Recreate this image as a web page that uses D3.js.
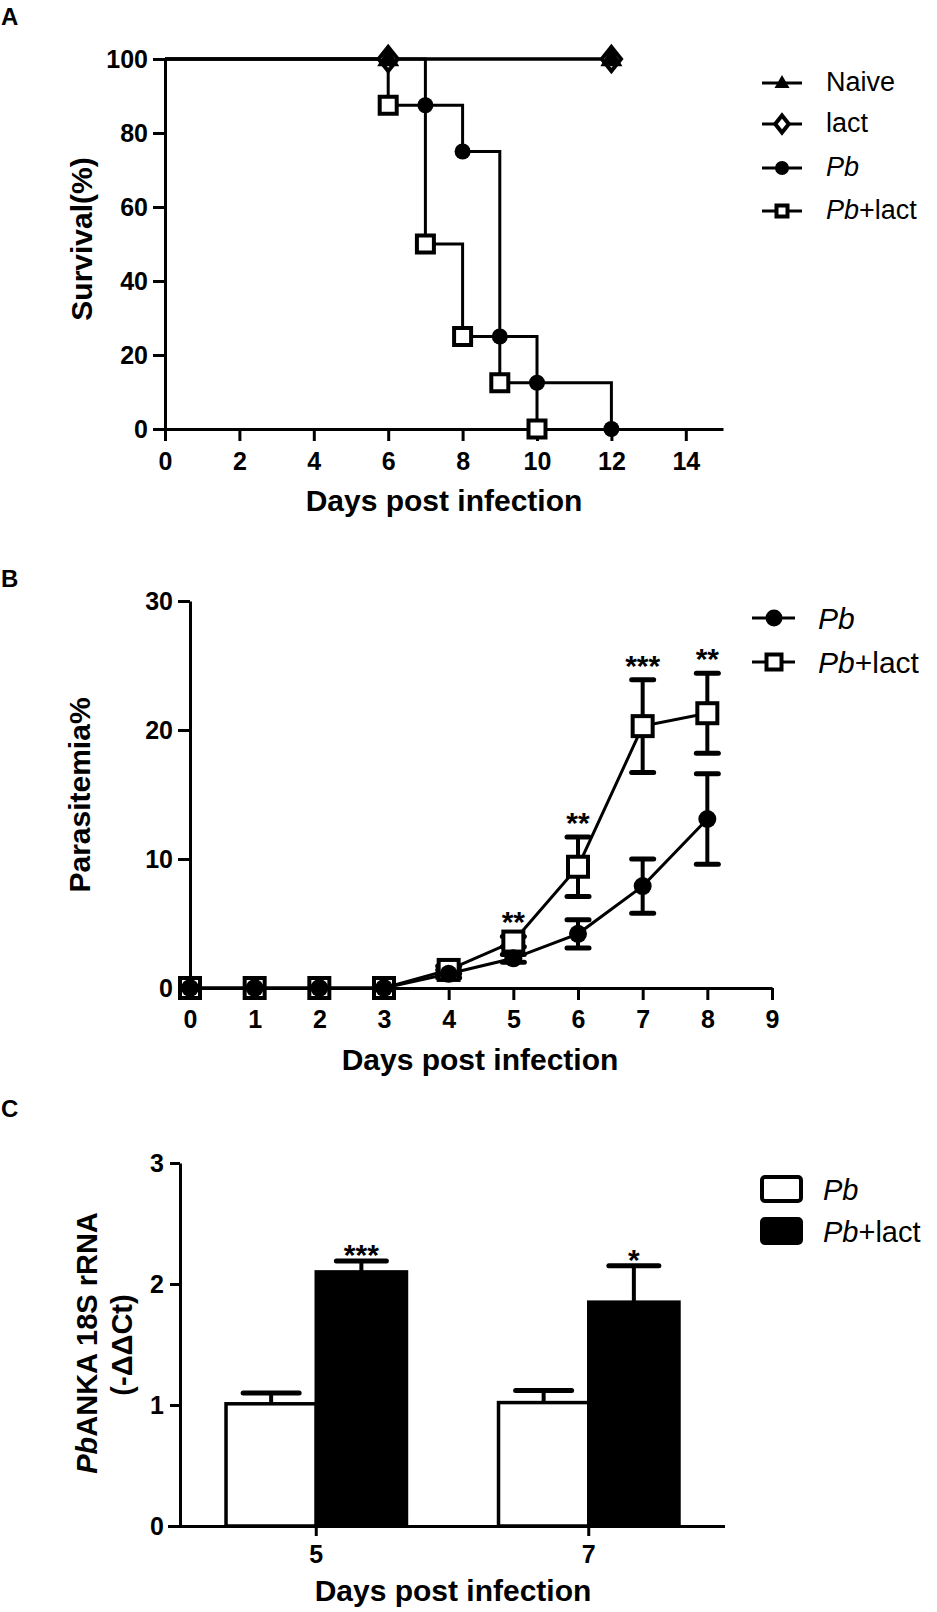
<!DOCTYPE html>
<html>
<head>
<meta charset="utf-8">
<script src="https://cdn.jsdelivr.net/npm/d3@7"></script>
<style>
  body { margin: 0; background: #fff; }
  svg text { font-family: "Liberation Sans", Arial, sans-serif; fill: #000; }
  .tick text { font-weight: bold; font-size: 25px; }
  .axis path, .axis line { stroke: #000; stroke-width: 3; }
</style>
</head>
<body>
<svg id="fig" width="937" height="1612"></svg>
<script>
// ---- Panel A: survival ----
const survivalXTicks = [0, 2, 4, 6, 8, 10, 12, 14];
const survivalYTicks = [0, 20, 40, 60, 80, 100];
const naiveDays = [0, 6, 12];
const naiveSurvival = [100, 100, 100];
const lactDays = [0, 6, 12];
const lactSurvival = [100, 100, 100];
const pbDays = [0, 7, 8, 9, 10, 12];
const pbSurvival = [100, 87.5, 75, 25, 12.5, 0];
const pbLactDays = [0, 6, 7, 8, 9, 10];
const pbLactSurvival = [100, 87.5, 50, 25, 12.5, 0];

// ---- Panel B: parasitemia ----
const paraDays = [0, 1, 2, 3, 4, 5, 6, 7, 8];
const paraXTicks = [0, 1, 2, 3, 4, 5, 6, 7, 8, 9];
const paraYTicks = [0, 10, 20, 30];
const pbPara = [0, 0, 0, 0, 1.1, 2.3, 4.2, 7.9, 13.1];
const pbParaErr = [0, 0, 0, 0, 0.3, 0.3, 1.1, 2.1, 3.5];
const pbLactPara = [0, 0, 0, 0, 1.4, 3.6, 9.4, 20.3, 21.3];
const pbLactParaErr = [0, 0, 0, 0, 0.3, 0.4, 2.3, 3.6, 3.1];
const paraStars = ["", "", "", "", "", "**", "**", "***", "**"];

// ---- Panel C: 18S rRNA ----
const rnaDays = ["5", "7"];
const rnaYTicks = [0, 1, 2, 3];
const pbRna = [1.01, 1.02];
const pbRnaErr = [0.09, 0.10];
const pbLactRna = [2.10, 1.85];
const pbLactRnaErr = [0.09, 0.30];
const rnaStars = ["***", "*"];

const svg = d3.select("#fig");
const black = "#000";

function panelLetter(txt, y) {
  svg.append("text").attr("x", 1).attr("y", y)
    .attr("font-weight", "bold").attr("font-size", 24).text(txt);
}

function styleAxis(g) {
  g.attr("class", "axis");
}

// size = nominal width of the marker in px
function marker(g, type, x, y, size) {
  if (type === "circle") {
    g.append("circle").attr("cx", x).attr("cy", y).attr("r", size / 2).attr("fill", black);
  } else if (type === "square") {
    const h = size / 2 - 2;
    g.append("rect").attr("x", x - h).attr("y", y - h).attr("width", 2 * h).attr("height", 2 * h)
      .attr("fill", "#fff").attr("stroke", black).attr("stroke-width", 4);
  } else if (type === "triangle") {
    const h = size * 0.87;
    g.append("path").attr("d", `M${x},${y - h * 0.62}L${x + size / 2},${y + h * 0.38}L${x - size / 2},${y + h * 0.38}Z`)
      .attr("fill", black);
  } else if (type === "diamond") {
    const r = size / 2;
    g.append("path").attr("d", `M${x},${y - r}L${x + r * 0.8},${y}L${x},${y + r}L${x - r * 0.8},${y}Z`)
      .attr("fill", "#fff").attr("stroke", black).attr("stroke-width", 4);
  }
}

// ================= Panel A =================
panelLetter("A", 25);
const xA = d3.scaleLinear().domain([0, 15]).range([165, 723]);
const yA = d3.scaleLinear().domain([0, 100]).range([429, 59]);

svg.append("g").attr("transform", `translate(0,${yA(0)})`)
  .call(d3.axisBottom(xA).tickValues(survivalXTicks).tickSize(12).tickSizeOuter(0).tickPadding(11))
  .call(styleAxis);
svg.append("g").attr("transform", `translate(${xA(0)},0)`)
  .call(d3.axisLeft(yA).tickValues(survivalYTicks).tickSize(12).tickSizeOuter(0).tickPadding(5))
  .call(styleAxis);

const stepLine = d3.line().curve(d3.curveStepAfter).x(d => xA(d[0])).y(d => yA(d[1]));
const survSeries = [
  { days: lactDays, vals: lactSurvival, mark: "diamond" },
  { days: naiveDays, vals: naiveSurvival, mark: "triangle" },
  { days: pbLactDays, vals: pbLactSurvival, mark: "square" },
  { days: pbDays, vals: pbSurvival, mark: "circle" }
];
const markSizeA = { diamond: 24, triangle: 22, square: 21, circle: 16 };
const gA = svg.append("g");
survSeries.forEach(s => {
  const pts = s.days.map((d, i) => [d, s.vals[i]]);
  gA.append("path").attr("d", stepLine(pts)).attr("fill", "none")
    .attr("stroke", black).attr("stroke-width", 3);
});
survSeries.forEach(s => {
  s.days.forEach((d, i) => { if (i > 0) marker(gA, s.mark, xA(d), yA(s.vals[i]), markSizeA[s.mark]); });
});

svg.append("text").attr("x", 444).attr("y", 511).attr("text-anchor", "middle")
  .attr("font-weight", "bold").attr("font-size", 30).text("Days post infection");
svg.append("text").attr("transform", `translate(92,239) rotate(-90)`).attr("text-anchor", "middle")
  .attr("font-weight", "bold").attr("font-size", 30).text("Survival(%)");

const legA = [
  { label: "Naive", mark: "triangle" },
  { label: "lact", mark: "diamond" },
  { label: "Pb", mark: "circle", italic: true },
  { label: "Pb+lact", mark: "square", italic: true }
];
const legSizeA = { triangle: 15, diamond: 17, circle: 14, square: 15 };
legA.forEach((l, i) => {
  const y = [83, 124, 168, 211][i];
  svg.append("line").attr("x1", 762).attr("x2", 802).attr("y1", y).attr("y2", y)
    .attr("stroke", black).attr("stroke-width", 3);
  marker(svg, l.mark, 782, y, legSizeA[l.mark]);
  const t = svg.append("text").attr("x", 826).attr("y", y + 8).attr("font-size", 27);
  if (l.italic) {
    t.append("tspan").attr("font-style", "italic").text("Pb");
    t.append("tspan").text(l.label.slice(2));
  } else t.text(l.label);
});

// ================= Panel B =================
panelLetter("B", 587);
const xB = d3.scaleLinear().domain([0, 9]).range([190, 772]);
const yB = d3.scaleLinear().domain([0, 30]).range([988, 601]);

svg.append("g").attr("transform", `translate(0,${yB(0)})`)
  .call(d3.axisBottom(xB).tickValues(paraXTicks).tickSize(12).tickSizeOuter(0).tickPadding(10))
  .call(styleAxis);
svg.append("g").attr("transform", `translate(${xB(0)},0)`)
  .call(d3.axisLeft(yB).tickValues(paraYTicks).tickSize(12).tickSizeOuter(0).tickPadding(5))
  .call(styleAxis);

const lineB = d3.line().x((d, i) => xB(paraDays[i])).y(d => yB(d));
const gB = svg.append("g");
[[pbLactPara, pbLactParaErr], [pbPara, pbParaErr]].forEach(([vals, errs]) => {
  gB.append("path").attr("d", lineB(vals)).attr("fill", "none")
    .attr("stroke", black).attr("stroke-width", 3);
  vals.forEach((v, i) => {
    if (errs[i] <= 0) return;
    const x = xB(paraDays[i]);
    const y0 = yB(v - errs[i]), y1 = yB(v + errs[i]);
    gB.append("line").attr("x1", x).attr("x2", x).attr("y1", y0).attr("y2", y1)
      .attr("stroke", black).attr("stroke-width", 4);
    [y0, y1].forEach(yy => gB.append("line").attr("x1", x - 11).attr("x2", x + 11)
      .attr("y1", yy).attr("y2", yy).attr("stroke", black).attr("stroke-width", 5)
      .attr("stroke-linecap", "round"));
  });
});
pbLactPara.forEach((v, i) => marker(gB, "square", xB(paraDays[i]), yB(v), 24));
pbPara.forEach((v, i) => marker(gB, "circle", xB(paraDays[i]), yB(v), 18));

paraStars.forEach((s, i) => {
  if (!s) return;
  const top = Math.max(pbLactPara[i] + pbLactParaErr[i], pbPara[i] + pbParaErr[i]);
  svg.append("text").attr("x", xB(paraDays[i])).attr("y", yB(top) - 4)
    .attr("text-anchor", "middle").attr("font-weight", "bold").attr("font-size", 30).text(s);
});

svg.append("text").attr("x", 480).attr("y", 1070).attr("text-anchor", "middle")
  .attr("font-weight", "bold").attr("font-size", 30).text("Days post infection");
svg.append("text").attr("transform", `translate(90,795) rotate(-90)`).attr("text-anchor", "middle")
  .attr("font-weight", "bold").attr("font-size", 30).text("Parasitemia%");

[{ mark: "circle", suffix: "", size: 17 }, { mark: "square", suffix: "+lact", size: 19 }].forEach((l, i) => {
  const y = 618 + i * 44;
  svg.append("line").attr("x1", 752).attr("x2", 795).attr("y1", y).attr("y2", y)
    .attr("stroke", black).attr("stroke-width", 3);
  marker(svg, l.mark, 774, y, l.size);
  const t = svg.append("text").attr("x", 818).attr("y", y + 11).attr("font-size", 30);
  t.append("tspan").attr("font-style", "italic").text("Pb");
  t.append("tspan").text(l.suffix);
});

// ================= Panel C =================
panelLetter("C", 1117);
const xC = d3.scaleBand().domain(rnaDays).range([180, 725]);
const xCInner = d3.scaleBand().domain(["Pb", "Pb+lact"]).range([0, xC.bandwidth()])
  .paddingInner(0).paddingOuter(0.51);
const yC = d3.scaleLinear().domain([0, 3]).range([1526, 1163]);

const gC = svg.append("g");
rnaDays.forEach((day, i) => {
  [["Pb", pbRna[i], pbRnaErr[i], "#fff", 28], ["Pb+lact", pbLactRna[i], pbLactRnaErr[i], black, 25]]
    .forEach(([key, v, e, fill, capHalf]) => {
      const x = xC(day) + xCInner(key);
      const cx = x + xCInner.bandwidth() / 2;
      gC.append("line").attr("x1", cx).attr("x2", cx).attr("y1", yC(v)).attr("y2", yC(v + e))
        .attr("stroke", black).attr("stroke-width", 4);
      gC.append("line").attr("x1", cx - capHalf).attr("x2", cx + capHalf).attr("y1", yC(v + e)).attr("y2", yC(v + e))
        .attr("stroke", black).attr("stroke-width", 5).attr("stroke-linecap", "round");
      gC.append("rect").attr("x", x).attr("y", yC(v)).attr("width", xCInner.bandwidth())
        .attr("height", yC(0) - yC(v)).attr("fill", fill).attr("stroke", black).attr("stroke-width", 3.5);
    });
  const cx = xC(day) + xCInner("Pb+lact") + xCInner.bandwidth() / 2;
  svg.append("text").attr("x", cx).attr("y", yC(pbLactRna[i] + pbLactRnaErr[i]) + 4)
    .attr("text-anchor", "middle").attr("font-weight", "bold").attr("font-size", 30).text(rnaStars[i]);
});

svg.append("g").attr("transform", `translate(0,${yC(0)})`)
  .call(d3.axisBottom(xC).tickSize(10).tickSizeOuter(0).tickPadding(9))
  .call(styleAxis)
  .call(g => g.select(".domain").attr("d", `M168,0.5H725`))
  .call(g => g.selectAll(".tick text").attr("font-size", 23));
svg.append("g").attr("transform", `translate(180,0)`)
  .call(d3.axisLeft(yC).tickValues(rnaYTicks).tickFormat(d3.format("d")).tickSize(10).tickSizeOuter(0).tickPadding(6))
  .call(styleAxis)
  .call(g => g.selectAll(".tick text").attr("font-size", 23));

svg.append("text").attr("x", 453).attr("y", 1601).attr("text-anchor", "middle")
  .attr("font-weight", "bold").attr("font-size", 30).text("Days post infection");
const yl = svg.append("text").attr("transform", `translate(97,1343) rotate(-90)`).attr("text-anchor", "middle")
  .attr("font-weight", "bold").attr("font-size", 29);
yl.append("tspan").attr("font-style", "italic").text("Pb");
yl.append("tspan").text("ANKA 18S rRNA");
svg.append("text").attr("transform", `translate(132,1345) rotate(-90)`).attr("text-anchor", "middle")
  .attr("font-weight", "bold").attr("font-size", 29).text("(-ΔΔCt)");

[{ fill: "#fff", suffix: "" }, { fill: black, suffix: "+lact" }].forEach((l, i) => {
  const y = 1189 + i * 42;
  svg.append("rect").attr("x", 762).attr("y", y - 12).attr("width", 39).attr("height", 24)
    .attr("rx", 3).attr("fill", l.fill).attr("stroke", black).attr("stroke-width", 4);
  const t = svg.append("text").attr("x", 823).attr("y", y + 11).attr("font-size", 29);
  t.append("tspan").attr("font-style", "italic").text("Pb");
  t.append("tspan").text(l.suffix);
});
</script>
</body>
</html>
